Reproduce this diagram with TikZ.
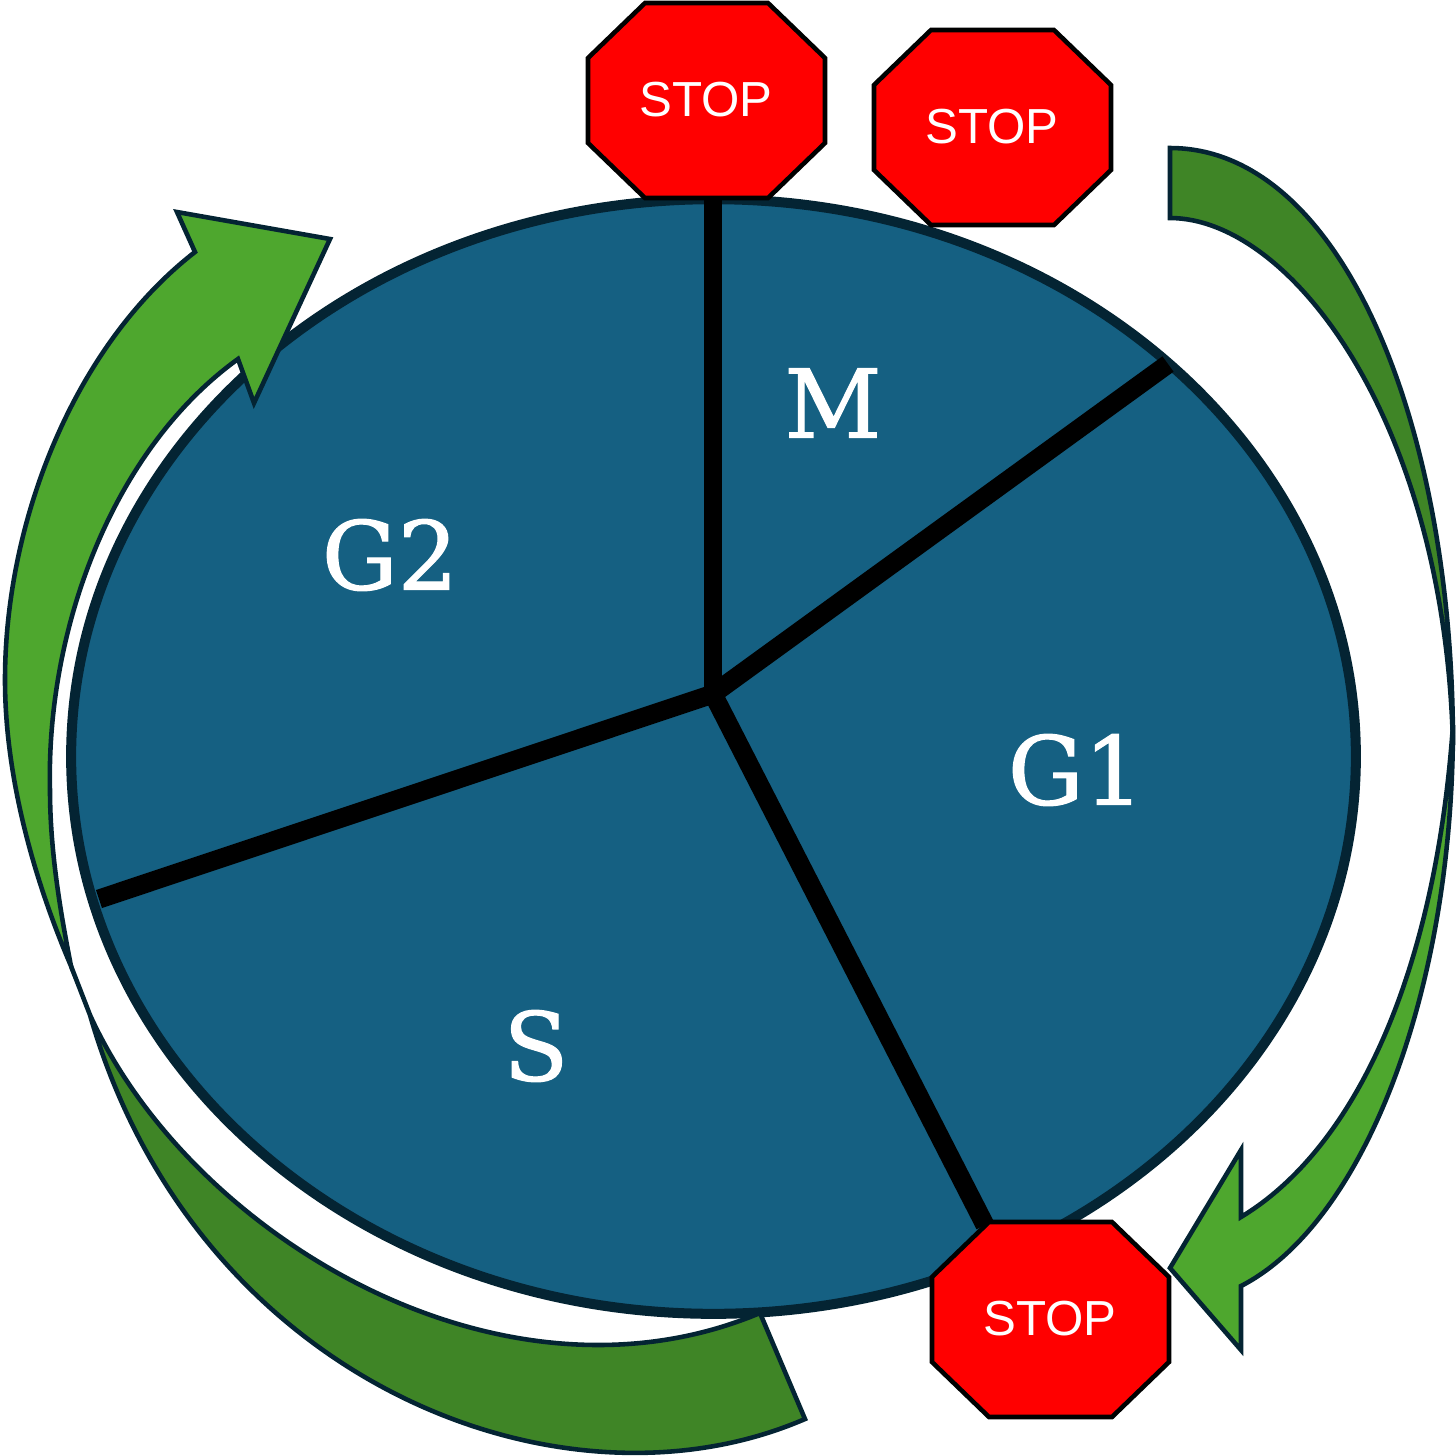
\documentclass[tikz,border=0pt]{standalone}
\usepackage{fontspec}
\setmainfont{Liberation Sans}
\newfontfamily\labelfont[FakeBold=1.2]{DejaVu Serif}
\usetikzlibrary{shapes.geometric,positioning}
\definecolor{cellblue}{HTML}{156082}
\definecolor{cellline}{HTML}{042433}
\definecolor{arrowlight}{HTML}{4EA72E}
\definecolor{arrowdark}{HTML}{3F8526}
\definecolor{stopred}{HTML}{FF0000}

\begin{document}
\begin{tikzpicture}[x=0.01cm, y=-0.01cm,
    phase/.style={text=white, font=\labelfont\fontsize{27}{27}\selectfont},
    ribbon/.style={draw=cellline, line width=1.3pt, line join=miter},
    spoke/.style={line width=5.4pt, black},
    stopsign/.pic={
        \draw[fill=stopred, draw=black, line width=1.3pt] (-61,-97) -- (62,-97) -- (119,-42) -- (119,43) -- (62,98) -- (-61,98) -- (-118,43) -- (-118,-42) -- cycle;
        \node (-label) [text=white, font=\fontsize{14}{14}\selectfont] {STOP};
    }]
    \useasboundingbox (0,0) rectangle (1456,1456);

    \node (cell) [ellipse, draw=cellline, fill=cellblue, line width=2.85pt, inner sep=0pt, minimum width=12.84cm, minimum height=11.14cm] at (713.5,756.5) {};

    \coordinate (hub) at (713,694);
    \coordinate (top) at (713,200);
    \coordinate (right) at (1168,364);
    \coordinate (bottom) at (985,1225);
    \coordinate (left) at (99,899);
    \draw[spoke] (hub) -- (top);
    \draw[spoke] (hub) -- (right);
    \draw[spoke] (hub) -- (bottom);
    \draw[spoke] (hub) -- (left);

    \node (m) [phase] at (833,403) {M};
    \node (gone) [phase] at (1076,770) {G1};
    \node (s) [phase] at (536,1046) {S};
    \node (gtwo) [phase] at (390,555) {G2};

    % right arrow, back then front
    \draw[ribbon, fill=arrowdark] (1170,148) .. controls (1340,148) and (1453,420) .. (1453,745) .. controls (1445,420) and (1290,218) .. (1170,218) -- cycle;
    \draw[ribbon, fill=arrowlight] (1453,725) .. controls (1453,1000) and (1360,1225) .. (1241,1286) -- (1241,1350) -- (1170,1268) -- (1241,1150) -- (1241,1217) .. controls (1352,1150) and (1435,980) .. (1453,725) -- cycle;

    % left arrow, back then front
    \draw[ribbon, fill=arrowdark] (71,966) -- (90,1015) .. controls (195,1380) and (560,1525) .. (805,1419) -- (760,1313) .. controls (500,1422) and (190,1235) .. (90,1015) -- cycle;
    \draw[ribbon, fill=arrowlight] (195,252) -- (177,212) -- (330,239) -- (254,403) -- (238,359) .. controls (112,450) and (46,630) .. (50,790) .. controls (50,850) and (60,910) .. (71,966) .. controls (30,870) and (5,770) .. (5,680) .. controls (5,520) and (75,345) .. (195,252) -- cycle;

    \pic (stopa) at (706,100) {stopsign};
    \pic (stopb) at (992,127) {stopsign};
    \pic (stopc) at (1050,1319) {stopsign};
\end{tikzpicture}
\end{document}
